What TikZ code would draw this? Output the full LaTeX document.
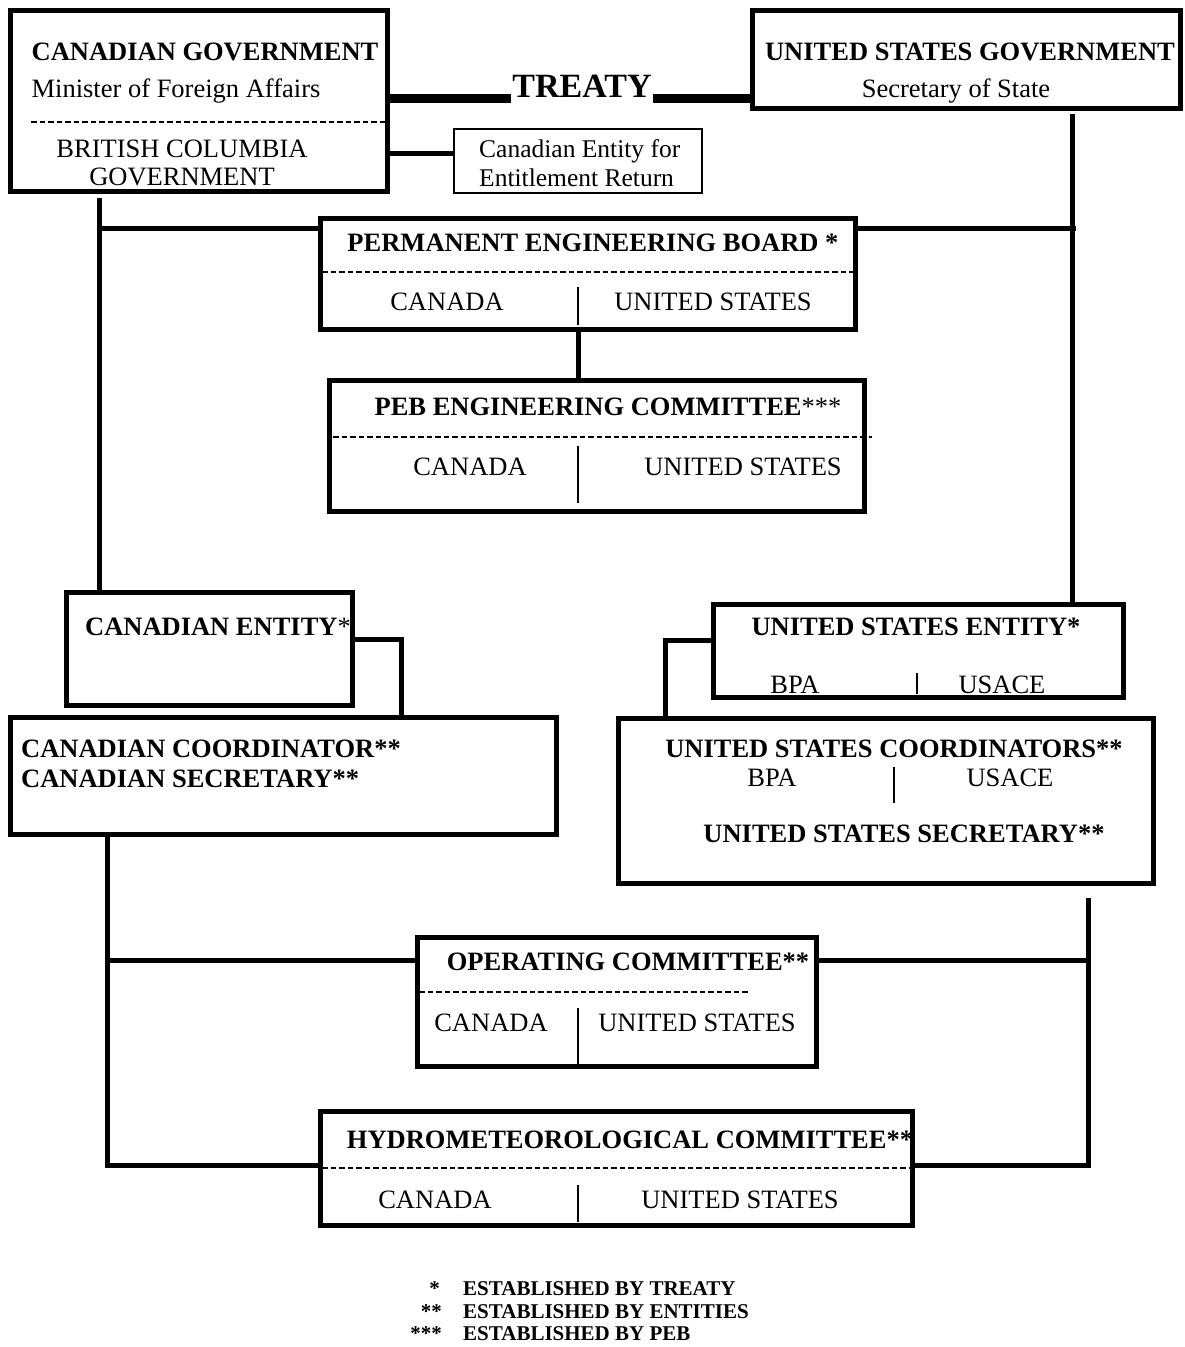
\documentclass[tikz,border=0pt]{standalone}
\usepackage{fontspec}
\setmainfont{Liberation Serif}
\usetikzlibrary{calc}
\newcommand\fsA{\fontsize{26.5}{30}\selectfont}
\newcommand\fsB{\fontsize{25.5}{29}\selectfont}
\newcommand\fsT{\fontsize{34}{38}\selectfont}
\newcommand\fsL{\fontsize{21}{24}\selectfont}
\begin{document}
\begin{tikzpicture}[x=1pt,y=-1pt,
  box/.style={draw, line width=5pt, inner sep=0pt, outer sep=0pt, anchor=north west},
  thinbox/.style={draw, line width=2pt, inner sep=0pt, outer sep=0pt, anchor=north west},
  conn/.style={line width=5pt},
  treatyline/.style={line width=9pt},
  sepline/.style={line width=1.4pt, dash pattern=on 5.5pt off 3pt},
  divider/.style={line width=1.5pt},
  rt/.style={inner sep=0pt, anchor=base, font=\fsA},
  bt/.style={inner sep=0pt, anchor=base, font=\fsA\bfseries},
  lg/.style={inner sep=0pt, anchor=base west, font=\fsL\bfseries},
  lgs/.style={inner sep=0pt, anchor=base east, font=\fsL\bfseries}]
\useasboundingbox (0,0) rectangle (1185,1347);

% boxes
\node[box, minimum width=377pt, minimum height=181pt] (cg) at (10,10) {};
\node[box, minimum width=428pt, minimum height=98pt] (usg) at (752,10) {};
\node[thinbox, minimum width=248pt, minimum height=64pt] (ceer) at (454,129) {};
\node[box, minimum width=535pt, minimum height=111pt] (peb) at (320,218) {};
\node[box, minimum width=535pt, minimum height=131pt] (pebc) at (329,380) {};
\node[box, minimum width=286pt, minimum height=113pt] (ce) at (66,592) {};
\node[box, minimum width=546pt, minimum height=117pt] (cc) at (10,717) {};
\node[box, minimum width=410pt, minimum height=93pt] (use) at (713,604) {};
\node[box, minimum width=535pt, minimum height=165pt] (usc) at (618,718) {};
\node[box, minimum width=399pt, minimum height=129pt] (oc) at (417,937) {};
\node[box, minimum width=592pt, minimum height=114pt] (hc) at (320,1111) {};

% Canadian government
\node[bt] (cgt) at (205,60) {CANADIAN GOVERNMENT};
\node[rt] (cgm) at (176,97) {Minister of Foreign Affairs};
\draw[sepline] (31,122) -- (387,122);
\node[rt] (cgb1) at (182,157) {BRITISH COLUMBIA};
\node[rt] (cgb2) at (182,185) {GOVERNMENT};

% treaty
\node[inner sep=1pt, anchor=base, font=\fsT\bfseries] (treaty) at (582,97) {TREATY};
\draw[treatyline] (cg.east |- 0,98) -- (treaty.west |- 0,98);
\draw[treatyline] (treaty.east |- 0,98) -- (usg.west |- 0,98);

% US government
\node[bt] (usgt) at (970,60) {UNITED STATES GOVERNMENT};
\node[rt] (usgs) at (956,97) {Secretary of State};

% Canadian Entity for Entitlement Return
\node[inner sep=0pt, anchor=base west, font=\fsB] (ceer1) at (479,157) {Canadian Entity for};
\node[inner sep=0pt, anchor=base west, font=\fsB] (ceer2) at (479,186) {Entitlement Return};
\draw[conn] (cg.east |- 0,153) -- (ceer.west |- 0,153);

% PEB
\node[bt] (pebt) at (593,251) {PERMANENT ENGINEERING BOARD *};
\draw[sepline] (322,272) -- (855,272);
\node[rt] (pebca) at (447,310) {CANADA};
\node[rt] (pebus) at (713,310) {UNITED STATES};
\draw[divider] (578,287) -- (578,325);

% PEB engineering committee
\node[bt] (pebct) at (608,415) {PEB ENGINEERING COMMITTEE\textmd{***}};
\draw[sepline] (333,437) -- (872,437);
\node[rt] (pebcca) at (470,475) {CANADA};
\node[rt] (pebcus) at (743,475) {UNITED STATES};
\draw[divider] (578,446) -- (578,503);
\draw[conn] (peb.south -| 578,0) -- (pebc.north -| 578,0);

% left upper trunk
\draw[conn] ([shift={(89,7)}]cg.south west) coordinate (lv) -- (lv |- ce.north);
\draw[conn] (lv |- 0,228) -- (peb.west |- 0,228);
% right upper trunk
\draw[conn] ([shift={(320,6)}]usg.south west) coordinate (rv) -- (rv |- use.north);
\draw[conn] (peb.east |- 0,228) -- ([xshift=4pt]rv |- 0,228);

% Canadian entity
\node[bt] (cet) at (218,635) {CANADIAN ENTITY\textmd{*}};
\draw[conn] (ce.east |- 0,639) -| (cc.north -| 401,0);

% Canadian coordinator
\node[bt, anchor=base west] (cct1) at (21,757) {CANADIAN COORDINATOR**};
\node[bt, anchor=base west] (cct2) at (21,787) {CANADIAN SECRETARY**};

% US entity
\node[bt] (uset) at (916,635) {UNITED STATES ENTITY*};
\node[rt] (usebpa) at (795,693) {BPA};
\node[rt] (useusace) at (1002,693) {USACE};
\draw[divider] (917,673) -- (917,694);
\draw[conn] (use.west |- 0,640) -| (usc.north -| 665,0);

% US coordinators
\node[bt] (usct) at (894,757) {UNITED STATES COORDINATORS**};
\node[rt] (uscbpa) at (772,786) {BPA};
\node[rt] (uscusace) at (1010,786) {USACE};
\draw[divider] (894,767) -- (894,803);
\node[bt] (uscs) at (904,842) {UNITED STATES SECRETARY**};

% operating committee
\node[bt] (oct) at (628,970) {OPERATING COMMITTEE**};
\draw[sepline] (419,992) -- (750,992);
\node[rt] (occa) at (491,1031) {CANADA};
\node[rt] (ocus) at (697,1031) {UNITED STATES};
\draw[divider] (578,1008) -- (578,1064);

% hydrometeorological committee
\node[bt] (hct) at (630,1148) {HYDROMETEOROLOGICAL COMMITTEE**};
\draw[sepline] (322,1168) -- (912,1168);
\node[rt] (hcca) at (435,1208) {CANADA};
\node[rt] (hcus) at (740,1208) {UNITED STATES};
\draw[divider] (578,1185) -- (578,1222);

% lower trunks
\draw[conn] ([xshift=97pt]cc.south west) coordinate (lv2) -- (lv2 |- 0,1165) -- (hc.west |- 0,1165);
\draw[conn] (lv2 |- 0,960) -- (oc.west |- 0,960);
\coordinate (rv2) at ([shift={(-65,15)}]usc.south east);
\draw[conn] (rv2) -- (rv2 |- 0,1165) -- (hc.east |- 0,1165);
\draw[conn] (oc.east |- 0,960) -- (rv2 |- 0,960);

% legend
\node[lgs] (l1s) at (440,1295) {*};
\node[lg] (l1) at (463,1295) {ESTABLISHED BY TREATY};
\node[lgs] (l2s) at (442,1318) {**};
\node[lg] (l2) at (463,1318) {ESTABLISHED BY ENTITIES};
\node[lgs] (l3s) at (442,1340) {***};
\node[lg] (l3) at (463,1340) {ESTABLISHED BY PEB};
\end{tikzpicture}
\end{document}
